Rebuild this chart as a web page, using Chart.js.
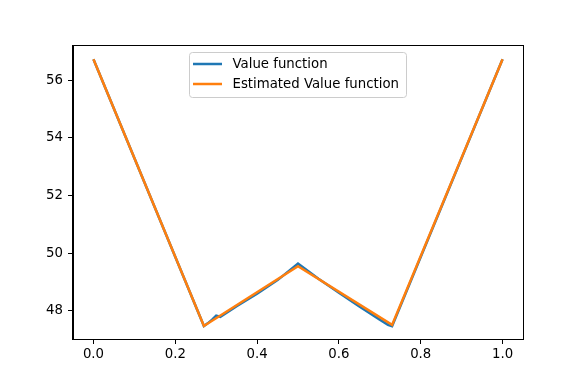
<!DOCTYPE html>
<html>
<head>
<meta charset="utf-8">
<script src="https://cdn.jsdelivr.net/npm/chart.js@4/dist/chart.umd.min.js"></script>
<style>html,body{margin:0;padding:0;background:#fff;}canvas{display:block;}</style>
</head>
<body>
<canvas id="c" width="581" height="388"></canvas>
<script>
const seriesNames = ["Value function", "Estimated Value function"];
const trueX = [0, 0.27, 0.28, 0.29, 0.30, 0.31, 0.35, 0.40, 0.45, 0.50, 0.55, 0.60, 0.65, 0.70, 0.72, 0.73, 1.0];
const trueV = [56.72, 47.48, 47.58, 47.70, 47.84, 47.80, 48.17, 48.60, 49.07, 49.64, 49.12, 48.63, 48.16, 47.70, 47.52, 47.47, 56.72];
const estX = [0, 0.27, 0.50, 0.73, 1.0];
const estV = [56.72, 47.48, 49.55, 47.52, 56.72];
const xTicks = [0, 0.2, 0.4, 0.6, 0.8, 1.0];
const yTicks = [48, 50, 52, 54, 56];

const FONT = {family: "'DejaVu Sans', sans-serif", size: 13.3};

const framePlugin = {
  id: 'frame',
  afterDatasetsDraw(chart) {
    const a = chart.chartArea, ctx = chart.ctx;
    ctx.save();
    ctx.strokeStyle = '#000';
    ctx.lineWidth = 1;
    ctx.strokeRect(Math.round(a.left) - 0.5, Math.round(a.top) - 0.5, Math.round(a.right - a.left) + 1, Math.round(a.bottom - a.top) + 1);
    ctx.restore();
  }
};

const legendPlugin = {
  id: 'mplLegend',
  afterDraw(chart) {
    const ctx = chart.ctx;
    const x = 189.5, y = 52.5, w = 217, h = 45, r = 3;
    ctx.save();
    ctx.beginPath();
    ctx.roundRect(x, y, w, h, r);
    ctx.fillStyle = 'rgba(255,255,255,0.8)';
    ctx.fill();
    ctx.strokeStyle = '#cccccc';
    ctx.lineWidth = 1;
    ctx.stroke();
    const rows = [64, 84];
    chart.data.datasets.forEach((ds, i) => {
      ctx.beginPath();
      ctx.moveTo(193, rows[i]);
      ctx.lineTo(222, rows[i]);
      ctx.strokeStyle = ds.borderColor;
      ctx.lineWidth = 2.5;
      ctx.stroke();
      ctx.fillStyle = '#000';
      ctx.font = FONT.size + 'px ' + FONT.family;
      ctx.textBaseline = 'middle';
      ctx.textAlign = 'left';
      ctx.fillText(ds.label, 232.5, rows[i] + 0.5);
    });
    ctx.restore();
  }
};

const axisCommon = {
  type: 'linear',
  grid: {drawOnChartArea: false, drawTicks: true, tickLength: 5, tickColor: '#000', tickWidth: 1},
  border: {display: true, color: '#000', width: 1},
};

new Chart(document.getElementById('c'), {
  type: 'line',
  data: {
    datasets: [
      {
        label: seriesNames[0],
        data: trueX.map((x, i) => ({x: x, y: trueV[i]})),
        borderColor: '#1f77b4',
        borderWidth: 2.5,
        pointRadius: 0,
        fill: false,
        tension: 0,
        order: 2
      },
      {
        label: seriesNames[1],
        data: estX.map((x, i) => ({x: x, y: estV[i]})),
        borderColor: '#ff7f0e',
        borderWidth: 2.5,
        pointRadius: 0,
        fill: false,
        tension: 0,
        order: 1
      }
    ]
  },
  options: {
    responsive: false,
    animation: false,
    devicePixelRatio: 1,
    layout: {padding: {left: 0, right: 58, top: 46, bottom: 0}},
    plugins: {legend: {display: false}, tooltip: {enabled: false}},
    scales: {
      x: Object.assign({}, axisCommon, {
        min: -0.05, max: 1.05,
        afterBuildTicks: s => { s.ticks = xTicks.map(v => ({value: v})); },
        afterFit: s => { s.height = 49; },
        ticks: {color: '#000', font: FONT, padding: 3, maxRotation: 0, autoSkip: false,
                callback: v => Number(v).toFixed(1)}
      }),
      y: Object.assign({}, axisCommon, {
        min: 47.03, max: 57.18,
        afterBuildTicks: s => { s.ticks = yTicks.map(v => ({value: v})); },
        afterFit: s => { s.width = 73; },
        ticks: {color: '#000', font: FONT, padding: 5, autoSkip: false,
                callback: v => String(v)}
      })
    }
  },
  plugins: [framePlugin, legendPlugin]
});
</script>
</body>
</html>
